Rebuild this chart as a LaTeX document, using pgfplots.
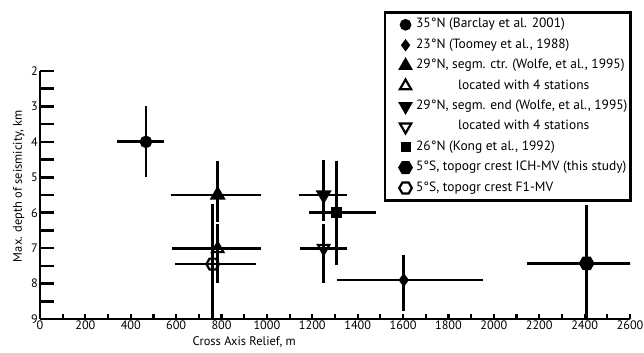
\documentclass[border=0pt]{standalone}
\usepackage{fontspec}
\setmainfont{PT Sans}
\usepackage{pgfplots}
\pgfplotsset{compat=1.18}
\usetikzlibrary{plotmarks}
\pgfdeclareplotmark{hexagon}{%
  \pgfpathmoveto{\pgfpointpolar{0}{\pgfplotmarksize}}%
  \pgfpathlineto{\pgfpointpolar{60}{\pgfplotmarksize}}%
  \pgfpathlineto{\pgfpointpolar{120}{\pgfplotmarksize}}%
  \pgfpathlineto{\pgfpointpolar{180}{\pgfplotmarksize}}%
  \pgfpathlineto{\pgfpointpolar{240}{\pgfplotmarksize}}%
  \pgfpathlineto{\pgfpointpolar{300}{\pgfplotmarksize}}%
  \pgfpathclose\pgfusepathqstroke}
\pgfdeclareplotmark{hexagon*}{%
  \pgfpathmoveto{\pgfpointpolar{0}{\pgfplotmarksize}}%
  \pgfpathlineto{\pgfpointpolar{60}{\pgfplotmarksize}}%
  \pgfpathlineto{\pgfpointpolar{120}{\pgfplotmarksize}}%
  \pgfpathlineto{\pgfpointpolar{180}{\pgfplotmarksize}}%
  \pgfpathlineto{\pgfpointpolar{240}{\pgfplotmarksize}}%
  \pgfpathlineto{\pgfpointpolar{300}{\pgfplotmarksize}}%
  \pgfpathclose\pgfusepathqfillstroke}
\pgfplotsset{myerr/.style={only marks,
  legend image code/.code={\draw[white, line width=0.01bp] (0bp,0bp) -- (28bp,0bp); \draw[##1, line width=2bp] plot coordinates {(19.4bp,0bp)};},
  error bars/.cd, x dir=both, x explicit, y dir=both, y explicit,
  error mark=none, error bar style={line width=2.8bp, black}}}
\begin{document}
\begin{tikzpicture}
\useasboundingbox (-40bp,-34bp) rectangle (604bp,319bp);
\begin{axis}[
  at={(0,0)}, anchor=south west,
  scale only axis, width=590bp, height=248bp,
  xmin=0, xmax=2600, ymin=2, ymax=9, y dir=reverse,
  axis x line=bottom, axis y line=left,
  axis line style={-, line width=2.6bp},
  tick align=inside,
  xtick={0,200,...,2600}, minor xtick={100,300,...,2500},
  ytick={2,...,9}, minor ytick={2.5,3.5,...,8.5},
  x tick style={line width=2.2bp, black, /pgfplots/major tick length=5.5bp, /pgfplots/minor tick length=5.5bp},
  y tick style={line width=2.6bp, black, /pgfplots/major tick length=14bp, /pgfplots/minor tick length=14bp},
  /pgf/number format/assume math mode=true,
  /pgf/number format/1000 sep={},
  tick label style={font=\fontsize{12.3}{14}\selectfont},
  xticklabel style={inner sep=1.5bp},
  yticklabel style={inner sep=2bp},
  xlabel={Cross Axis Relief, m},
  ylabel={Max. depth of seismicity, km},
  label style={font=\fontsize{12.5}{14}\selectfont},
  xlabel style={at={(axis cs:900,9)}, anchor=north, yshift=-14bp},
  ylabel style={at={(rel axis cs:0,0.535)}, anchor=south, xshift=0bp, yshift=12bp},
  legend style={at={(rel axis cs:1.003,1.2407)}, anchor=north east,
    draw=black, line width=2.6bp, font=\fontsize{13.5}{16}\selectfont,
    inner xsep=1bp, inner ysep=2bp, row sep=0bp,
    nodes={text height=8.5bp, text depth=2.5bp, inner ysep=4.7bp, inner xsep=2bp}},
  legend cell align=left,
  every axis plot/.append style={black, line width=2.8bp},
  clip=true,
]
% 35N Barclay
\addplot[mark=*, mark size=4.8bp, mark options={fill=black}, myerr]
  coordinates {(467,4) += (78,1) -= (127,1)};
\addlegendentry{35°N (Barclay et al. 2001)}
% 23N Toomey
\addplot[mark=diamond*, mark size=4.6bp, mark options={fill=black}, myerr]
  coordinates {(1603,7.9) += (351,0.87) -= (293,0.7)};
\addlegendentry{23°N (Toomey et al., 1988)}
% 29N segm ctr
\addplot[mark=triangle*, mark size=6.5bp, mark options={fill=black}, myerr]
  coordinates {(783,5.5) += (190,0.77) -= (206,0.95)};
\addlegendentry{29°N, segm. ctr. (Wolfe, et al., 1995)}
% open triangle
\addplot[mark=triangle, mark size=6.5bp, mark options={line width=2.2bp}, myerr]
  coordinates {(783,7.02) += (190,0.96) -= (201,0.7)};
\addlegendentry{\hspace*{42bp}located with 4 stations}
% 29N segm end
\addplot[mark=triangle*, mark size=6.5bp, mark options={fill=black, rotate=180}, myerr]
  coordinates {(1250,5.5) += (102,0.73) -= (110,0.98)};
\addlegendentry{29°N, segm. end (Wolfe, et al., 1995)}
% open down triangle
\addplot[mark=triangle, mark size=6.5bp, mark options={line width=2.2bp, rotate=180}, myerr]
  coordinates {(1250,7.0) += (104,0.97) -= (104,0.68)};
\addlegendentry{\hspace*{42bp}located with 4 stations}
% 26N Kong
\addplot[mark=square*, mark size=4bp, mark options={fill=black}, myerr]
  coordinates {(1305,6.0) += (174,1.48) -= (121,1.46)};
\addlegendentry{26°N (Kong et al., 1992)}
% 5S ICH-MV
\addplot[mark=hexagon*, mark size=6.3bp, mark options={fill=black}, myerr]
  coordinates {(2409,7.43) += (196,2) -= (264,1.66)};
\addlegendentry{5°S, topogr crest ICH-MV (this study)}
% 5S F1-MV
\addplot[mark=hexagon, mark size=6.3bp, mark options={line width=2.2bp}, myerr]
  coordinates {(761,7.45) += (189,2) -= (165,1.71)};
\addlegendentry{5°S, topogr crest F1-MV}
\end{axis}
\end{tikzpicture}
\end{document}
